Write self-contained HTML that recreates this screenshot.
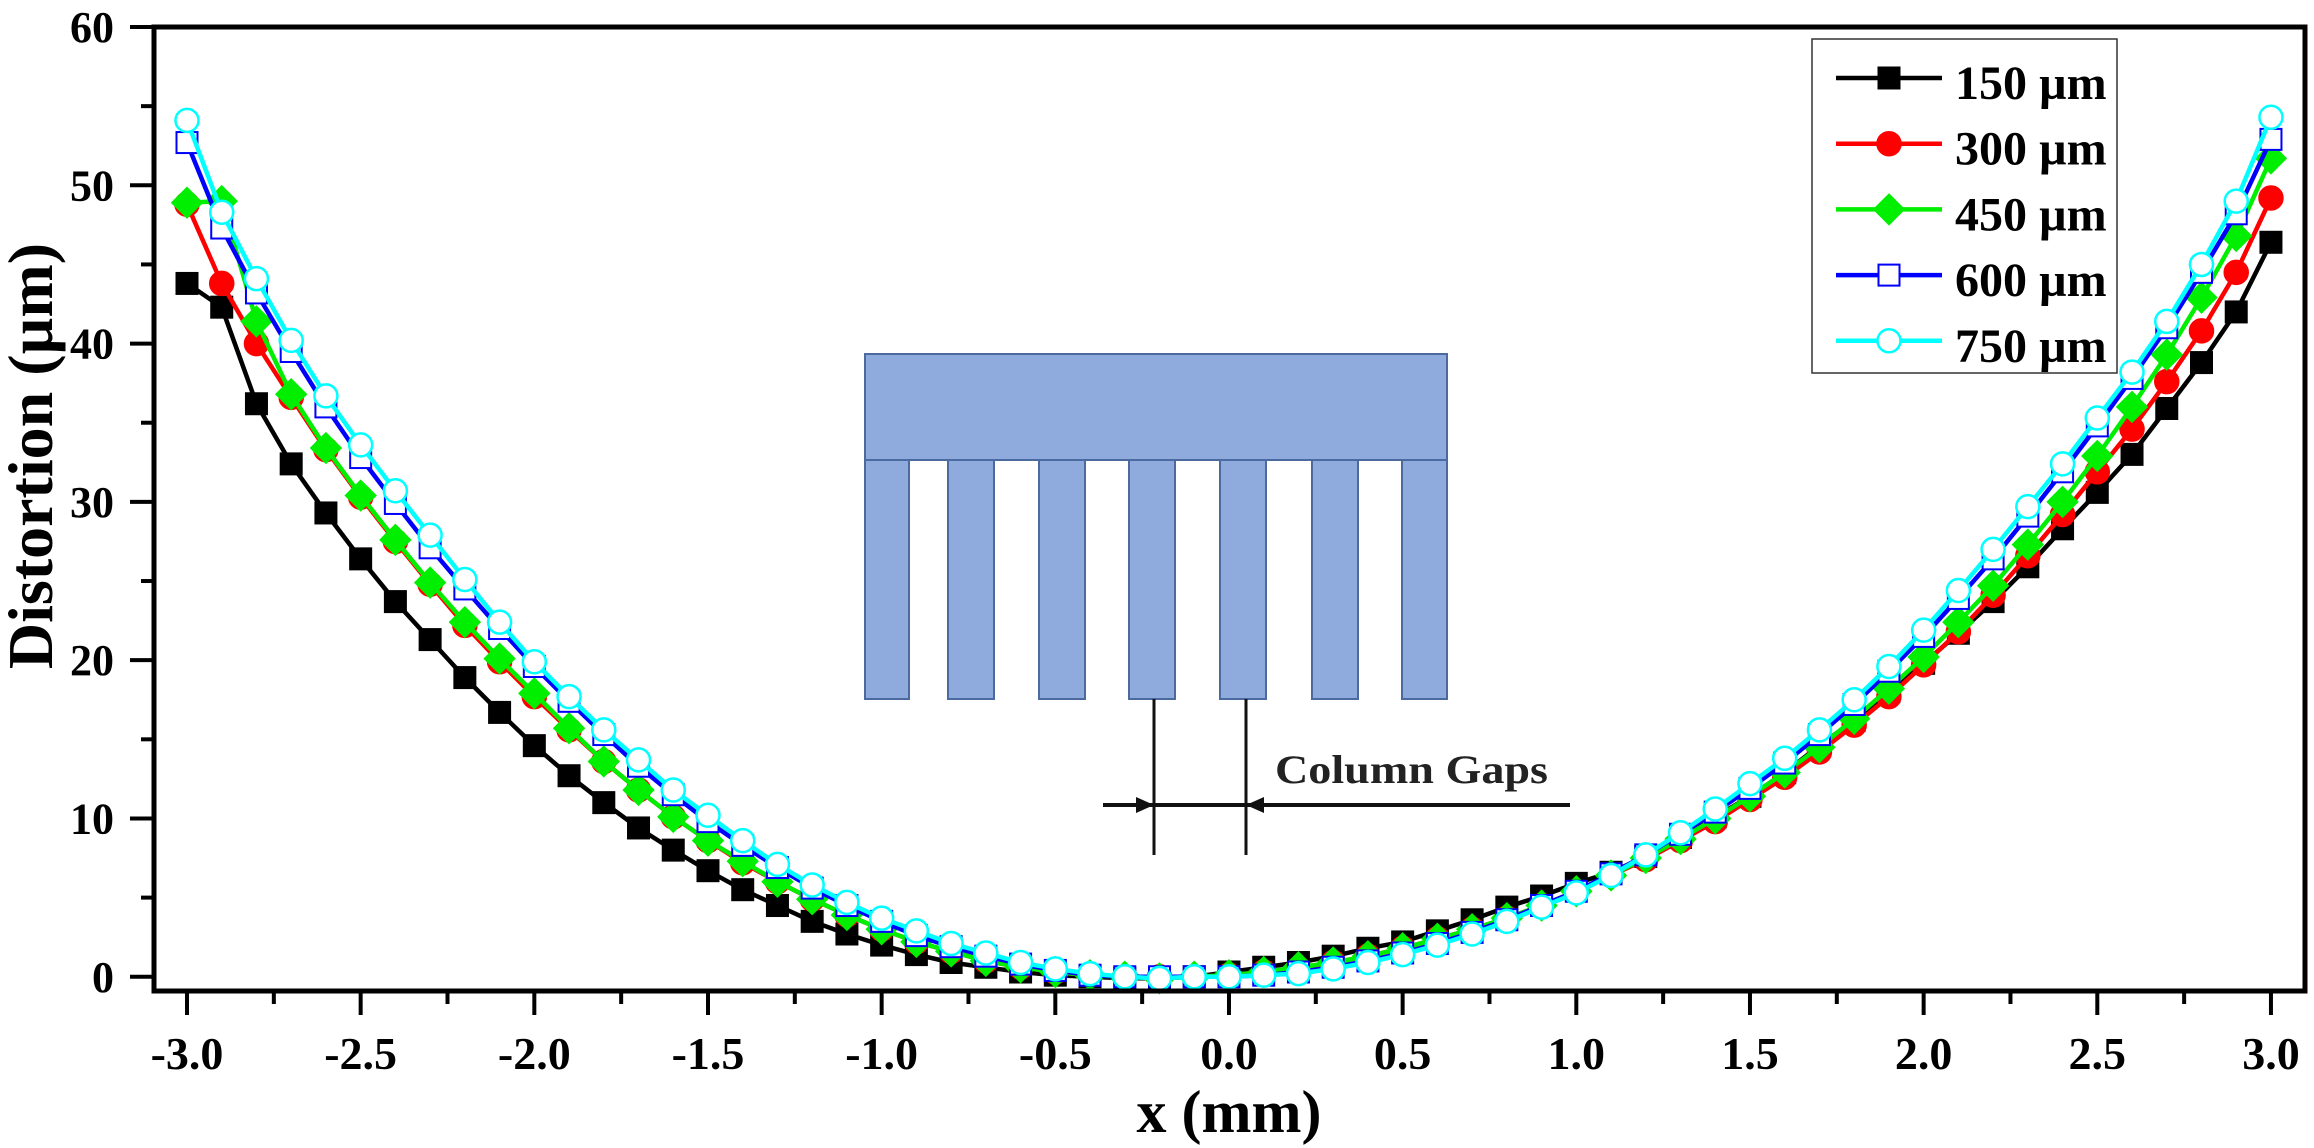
<!DOCTYPE html>
<html><head><meta charset="utf-8"><style>
html,body{margin:0;padding:0;background:#fff;}
svg{display:block;font-family:"Liberation Serif",serif;font-weight:bold;}
</style></head><body>
<svg id="chart" width="2314" height="1148" viewBox="0 0 2314 1148" xmlns="http://www.w3.org/2000/svg">
<rect width="2314" height="1148" fill="#fff"/>
<g id="series-layer"></g>
<g id="inset">
  <rect x="865" y="354" width="582" height="106" fill="#8faadc" stroke="#4a6aa0" stroke-width="2"/>
  <g fill="#8faadc" stroke="#4a6aa0" stroke-width="2">
    <rect x="865" y="460" width="44" height="239"/>
    <rect x="948" y="460" width="46" height="239"/>
    <rect x="1039" y="460" width="46" height="239"/>
    <rect x="1129" y="460" width="46" height="239"/>
    <rect x="1220" y="460" width="46" height="239"/>
    <rect x="1312" y="460" width="46" height="239"/>
    <rect x="1402" y="460" width="45" height="239"/>
  </g>
  <line x1="1154" y1="699" x2="1154" y2="855" stroke="#111" stroke-width="3"/>
  <line x1="1246" y1="699" x2="1246" y2="855" stroke="#111" stroke-width="3"/>
  <line x1="1103" y1="805" x2="1570" y2="805" stroke="#111" stroke-width="4"/>
  <polygon points="1154,805 1136,797 1136,813" fill="#111"/>
  <polygon points="1246,805 1264,797 1264,813" fill="#111"/>
  <text x="1275" y="783" font-size="40" textLength="273" lengthAdjust="spacingAndGlyphs" fill="#222">Column Gaps</text>
</g>
<g id="axes"></g>
<g id="legend"></g>
</svg>
<script>
const xValues = [];
for (let i = 0; i <= 60; i++) xValues.push(Math.round((-3 + i * 0.1) * 10) / 10);
const s150 = [43.8,42.3,36.2,32.4,29.3,26.4,23.7,21.3,18.9,16.7,14.6,12.7,11.0,9.4,8.0,6.7,5.5,4.5,3.5,2.7,2.0,1.4,0.9,0.6,0.3,0.1,0.0,-0.1,-0.1,0.0,0.3,0.6,0.9,1.3,1.8,2.2,2.9,3.6,4.4,5.1,5.9,6.6,7.6,8.8,10.1,11.4,12.9,14.6,16.2,18.0,19.8,21.7,23.7,25.9,28.3,30.6,33.0,35.9,38.8,42.0,46.4];
const s300 = [48.8,43.8,40.0,36.6,33.3,30.3,27.5,24.8,22.2,19.9,17.7,15.6,13.6,11.8,10.1,8.6,7.2,6.0,4.9,3.9,3.0,2.2,1.6,1.0,0.6,0.3,0.1,0.0,0.0,0.0,0.1,0.3,0.5,0.9,1.3,1.8,2.4,3.0,3.7,4.5,5.4,6.4,7.4,8.6,9.8,11.2,12.6,14.2,15.9,17.7,19.7,21.8,24.1,26.6,29.2,31.9,34.6,37.6,40.8,44.5,49.2];
const s450 = [48.9,49.0,41.4,36.8,33.4,30.4,27.6,24.9,22.4,20.1,17.9,15.7,13.6,11.8,10.1,8.6,7.3,6.0,4.9,3.9,3.0,2.2,1.6,1.0,0.6,0.3,0.1,0.0,-0.1,0.0,0.1,0.3,0.6,0.9,1.3,1.8,2.4,3.0,3.7,4.5,5.4,6.4,7.5,8.7,10.0,11.4,12.9,14.5,16.3,18.2,20.2,22.4,24.7,27.3,30.0,32.9,36.0,39.3,42.9,46.8,51.7];
const s600 = [52.7,47.3,43.2,39.5,36.0,32.8,29.9,27.1,24.5,22.0,19.6,17.4,15.3,13.3,11.5,9.8,8.3,6.9,5.6,4.5,3.5,2.6,1.9,1.3,0.8,0.4,0.1,0.0,0.0,0.0,0.0,0.1,0.3,0.6,1.0,1.5,2.1,2.8,3.6,4.5,5.4,6.5,7.7,9.0,10.4,11.9,13.5,15.3,17.2,19.3,21.5,23.9,26.4,29.1,31.9,34.8,37.8,41.0,44.5,48.2,52.9];
const s750 = [54.1,48.3,44.1,40.2,36.7,33.6,30.7,27.9,25.1,22.4,19.9,17.7,15.6,13.7,11.8,10.2,8.6,7.1,5.8,4.7,3.7,2.9,2.1,1.5,0.9,0.5,0.2,0.0,-0.1,0.0,0.0,0.1,0.2,0.5,0.9,1.4,2.0,2.7,3.5,4.4,5.3,6.4,7.7,9.1,10.6,12.2,13.8,15.6,17.5,19.6,21.9,24.4,27.0,29.7,32.4,35.3,38.2,41.4,45.0,49.0,54.3];
const seriesNames = ["150 µm","300 µm","450 µm","600 µm","750 µm"];
const xTickLabels = ["-3.0","-2.5","-2.0","-1.5","-1.0","-0.5","0.0","0.5","1.0","1.5","2.0","2.5","3.0"];
const yTickLabels = ["0","10","20","30","40","50","60"];

const NS = "http://www.w3.org/2000/svg";
const X0 = 154, X1 = 2305, Y0 = 991, Y1 = 27;
const xMin = -3.095, xMax = 3.098, yMin = -0.9, yMax = 60;
const xs = v => X0 + (v - xMin) / (xMax - xMin) * (X1 - X0);
const ys = v => Y0 - (v - yMin) / (yMax - yMin) * (Y0 - Y1);
function mk(tag, attrs, parent) {
  const e = document.createElementNS(NS, tag);
  for (const k in attrs) e.setAttribute(k, attrs[k]);
  parent.appendChild(e);
  return e;
}
const styles = [
  {color:"#000", marker:"square", fill:"#000"},
  {color:"#ff0000", marker:"circle", fill:"#ff0000"},
  {color:"#00ee00", marker:"diamond", fill:"#00ee00"},
  {color:"#0000ff", marker:"square", fill:"#fff"},
  {color:"#00ffff", marker:"circle", fill:"#fff"}
];
const allSeries = [s150, s300, s450, s600, s750];
function marker(g, st, cx, cy) {
  let m;
  if (st.marker === "square") m = mk("rect", {x:cx-10.5, y:cy-10.5, width:21, height:21, fill:st.fill, stroke:st.color, "stroke-width":2}, g);
  else if (st.marker === "circle") m = mk("circle", {cx:cx, cy:cy, r:11.5, fill:st.fill, stroke:st.color, "stroke-width":2.5}, g);
  else { const r = 15.5; m = mk("polygon", {points:`${cx},${cy-r} ${cx+r},${cy} ${cx},${cy+r} ${cx-r},${cy}`, fill:st.fill, stroke:st.color, "stroke-width":1}, g); }
  return m;
}
const layer = document.getElementById("series-layer");
allSeries.forEach((data, si) => {
  const st = styles[si];
  const g = mk("g", {}, layer);
  
  
  const pts = data.map((v, i) => xs(xValues[i]).toFixed(1) + "," + ys(v).toFixed(1)).join(" ");
  const pl = mk("polyline", {points:pts, fill:"none", stroke:st.color, "stroke-width":4.5, "stroke-linejoin":"round"}, g);
  
  
  data.forEach((v, i) => {
    const m = marker(g, st, xs(xValues[i]), ys(v));
    
    
  });
});

const ax = document.getElementById("axes");
const frame = mk("rect", {x:X0, y:Y1, width:X1-X0, height:Y0-Y1, fill:"none", stroke:"#000", "stroke-width":5}, ax);


xTickLabels.forEach(lbl => {
  const v = parseFloat(lbl), x = xs(v);
  const t = mk("line", {x1:x, y1:Y0, x2:x, y2:Y0+24, stroke:"#000", "stroke-width":4}, ax);
  
  
  const tx = mk("text", {x:x, y:1069, "text-anchor":"middle", "font-size":46}, ax);
  tx.textContent = lbl;
  
  
  if (v < 3) {
    const mx = xs(v + 0.25);
    const mt = mk("line", {x1:mx, y1:Y0, x2:mx, y2:Y0+13, stroke:"#000", "stroke-width":4}, ax);
    
    
  }
});
yTickLabels.forEach(lbl => {
  const v = parseFloat(lbl), y = ys(v);
  const t = mk("line", {x1:X0, y1:y, x2:X0-24, y2:y, stroke:"#000", "stroke-width":4}, ax);
  
  
  const tx = mk("text", {x:114, y:y+15, "text-anchor":"end", "font-size":44}, ax);
  tx.textContent = lbl;
  
  
  if (v < 60) {
    const my = ys(v + 5);
    const mt = mk("line", {x1:X0, y1:my, x2:X0-13, y2:my, stroke:"#000", "stroke-width":4}, ax);
    
    
  }
});
const xt = mk("text", {x:1229, y:1132, "text-anchor":"middle", "font-size":60}, ax);
xt.textContent = "x (mm)";


const yt = mk("text", {x:0, y:0, "text-anchor":"middle", "font-size":64, transform:`translate(52,456) rotate(-90)`}, ax);
yt.textContent = "Distortion (µm)";



const lg = document.getElementById("legend");
const box = mk("rect", {x:1812, y:39, width:305, height:334, fill:"#fff", stroke:"#333", "stroke-width":1.5}, lg);


seriesNames.forEach((nm, i) => {
  const y = 78 + i * 65.7, st = styles[i];
  const g = mk("g", {}, lg);
  
  
  mk("line", {x1:1836, y1:y, x2:1942, y2:y, stroke:st.color, "stroke-width":4.5}, g);
  marker(g, st, 1889, y);
  const t = mk("text", {x:1955, y:y+21, "font-size":48}, g);
  t.textContent = nm;
});
</script>
</body></html>
